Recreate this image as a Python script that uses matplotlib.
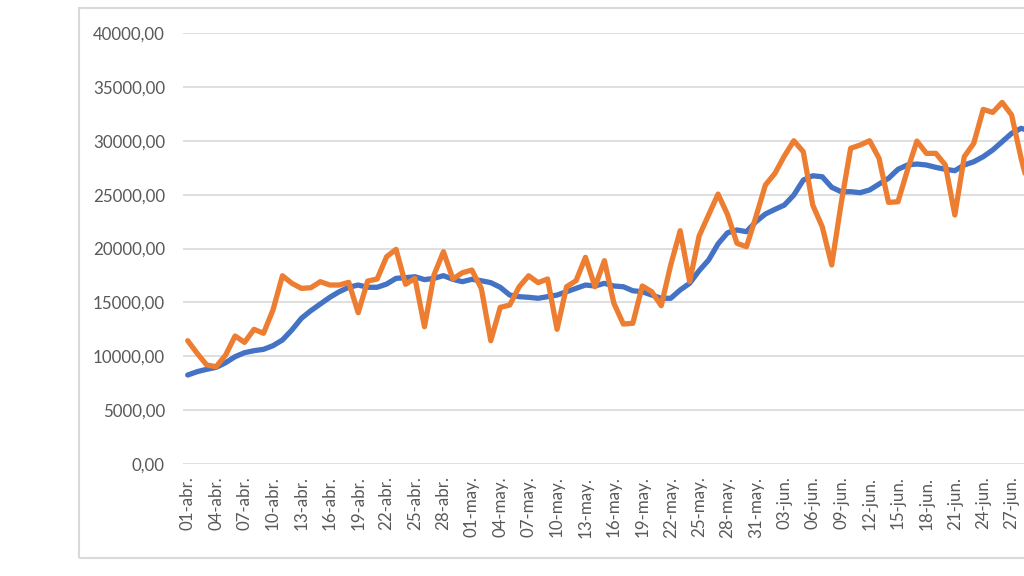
import matplotlib
matplotlib.use("Agg")
import matplotlib.pyplot as plt
from matplotlib.patches import Rectangle
from matplotlib.ticker import FuncFormatter
import datetime as dt

# Daily values (orange) and moving average (blue), 01-abr onward
daily = [11440, 10270, 9190, 9030, 10110, 11880, 11290, 12500, 12130, 14290,
         17470, 16770, 16300, 16360, 16920, 16610, 16610, 16860, 14040, 16980,
         17170, 19240, 19920, 16680, 17230, 12740, 17540, 19700, 17170, 17750,
         18000, 16300, 11440, 14540, 14750, 16450, 17470, 16830, 17170, 12500,
         16450, 17010, 19180, 16450, 18870, 14910, 12990, 13060, 16520, 15990,
         14690, 18470, 21650, 16920, 21160, 23110, 25050, 23150, 20480, 20170,
         22950, 25890, 26970, 28580, 30000, 28980, 24030, 22020, 18470, 24190,
         29300, 29600, 30000, 28370, 24280, 24340, 27280, 29970, 28830, 28830,
         27750, 23110, 28520, 29760, 32910, 32630, 33560, 32390, 28370, 25000]
avg = [8260, 8570, 8790, 8970, 9400, 9960, 10330, 10520, 10640, 10980,
       11510, 12440, 13520, 14230, 14850, 15470, 15990, 16400, 16610, 16400,
       16400, 16700, 17230, 17290, 17380, 17110, 17230, 17480, 17140, 16920,
       17140, 17010, 16830, 16400, 15680, 15530, 15470, 15380, 15530, 15680,
       15990, 16300, 16610, 16520, 16770, 16520, 16450, 16080, 15990, 15680,
       15380, 15380, 16150, 16770, 17940, 18930, 20430, 21460, 21720, 21560,
       22490, 23200, 23630, 24030, 24960, 26350, 26750, 26660, 25680, 25270,
       25270, 25180, 25430, 25980, 26510, 27350, 27750, 27840, 27750, 27530,
       27350, 27220, 27750, 28050, 28520, 29140, 29910, 30690, 31150, 30900]

months = {4: "abr.", 5: "may.", 6: "jun."}
start = dt.date(2020, 4, 1)
dates = [start + dt.timedelta(days=i) for i in range(len(daily))]
tick_idx = list(range(0, len(daily), 3))
tick_labels = [f"{dates[i].day:02d}-{months[dates[i].month]}" for i in tick_idx]

plt.rcParams['font.family'] = ['Lato', 'DejaVu Sans']

fig = plt.figure(figsize=(10.24, 5.76), dpi=100)
fig.patch.set_facecolor("white")
# chart-area frame
fig.patches.append(Rectangle((79/1024, 1-558/576), 1.2, (558-8)/576,
                             transform=fig.transFigure, fill=False,
                             edgecolor="#d9d9d9", linewidth=1.5))

ax = fig.add_axes([183/1024, 1-464/576, 90*9.47/1024, 431/576])
x = list(range(len(daily)))
ax.plot(x, avg, color="#4472C4", linewidth=3.8, solid_capstyle="round",
        solid_joinstyle="round", zorder=3)
ax.plot(x, daily, color="#ED7D31", linewidth=3.8, solid_capstyle="round",
        solid_joinstyle="round", zorder=4)

ax.set_xlim(-0.5, 89.5)
ax.set_ylim(0, 40000)
ax.set_yticks(range(0, 40001, 5000))
ax.yaxis.set_major_formatter(FuncFormatter(lambda v, p: f"{v:.2f}".replace(".", ",")))
ax.set_xticks(tick_idx)
ax.set_xticklabels(tick_labels, rotation=90)
ax.grid(axis="y", color="#d9d9d9", linewidth=1.2)
ax.set_axisbelow(True)
for s in ax.spines.values():
    s.set_visible(False)
ax.tick_params(axis="both", length=0, colors="#595959", labelsize=12.2)
ax.tick_params(axis="y", pad=13)
ax.tick_params(axis="x", pad=9)

fig.savefig("out.png", dpi=100)
